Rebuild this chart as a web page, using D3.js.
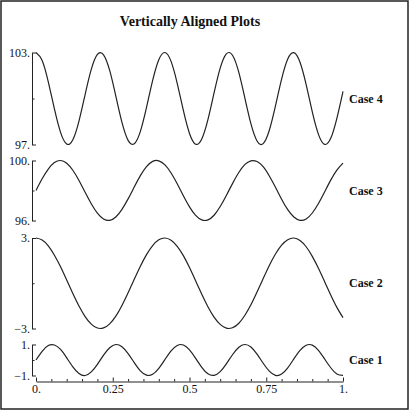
<!DOCTYPE html>
<html>
<head>
<meta charset="utf-8">
<script src="https://cdn.jsdelivr.net/npm/d3@7"></script>
<style>
  html, body { margin: 0; padding: 0; background: #fff; }
  svg { display: block; }
  text { font-family: "Liberation Serif", "Times New Roman", serif; fill: #111; }
</style>
</head>
<body>
<svg id="chart" width="410" height="412"></svg>
<script>
// ---- Data ----
const title = "Vertically Aligned Plots";
const xs = [0,0.02,0.04,0.06,0.08,0.1,0.12,0.14,0.16,0.18,0.2,0.22,0.24,0.26,0.28,0.3,0.32,0.34,0.36,0.38,0.4,0.42,0.44,0.46,0.48,0.5,0.52,0.54,0.56,0.58,0.6,0.62,0.64,0.66,0.68,0.7,0.72,0.74,0.76,0.78,0.8,0.82,0.84,0.86,0.88,0.9,0.92,0.94,0.96,0.98,1];
const case4 = [103.00,102.48,101.09,99.32,97.79,97.03,97.31,98.53,100.26,101.90,102.88,102.85,101.83,100.16,98.44,97.27,97.05,97.86,99.42,101.18,102.53,103.00,102.42,100.99,99.22,97.72,97.02,97.36,98.62,100.36,101.98,102.91,102.82,101.75,100.06,98.36,97.23,97.06,97.93,99.52,101.27,102.58,102.99,102.36,100.90,99.12,97.66,97.01,97.40,98.71,100.46];
const case3 = [98.00,98.78,99.43,99.86,100.00,99.82,99.35,98.67,97.88,97.12,96.49,96.10,96.01,96.23,96.74,97.44,98.23,98.99,99.59,99.94,99.98,99.71,99.17,98.45,97.65,96.91,96.34,96.04,96.04,96.35,96.93,97.67,98.46,99.18,99.72,99.98,99.93,99.59,98.97,98.22,97.42,96.72,96.23,96.01,96.10,96.50,97.13,97.90,98.69,99.36,99.83];
const case2 = [3.00,2.87,2.48,1.86,1.09,0.21,-0.68,-1.51,-2.21,-2.71,-2.97,-2.96,-2.69,-2.18,-1.47,-0.63,0.26,1.13,1.90,2.50,2.88,3.00,2.85,2.45,1.83,1.04,0.16,-0.73,-1.56,-2.25,-2.73,-2.98,-2.95,-2.67,-2.14,-1.43,-0.58,0.31,1.18,1.94,2.53,2.89,3.00,2.84,2.42,1.78,0.99,0.11,-0.78,-1.60,-2.28];
const case1 = [0,0.56,0.93,0.97,0.68,0.14,-0.44,-0.87,-1.00,-0.77,-0.28,0.31,0.79,1.00,0.85,0.41,-0.17,-0.70,-0.98,-0.92,-0.54,0.03,0.59,0.94,0.97,0.65,0.11,-0.47,-0.89,-0.99,-0.75,-0.25,0.34,0.81,1.00,0.84,0.38,-0.21,-0.72,-0.99,-0.91,-0.51,0.07,0.62,0.95,0.96,0.62,0.07,-0.50,-0.90,-0.99];

const caseNames = ["Case 4", "Case 3", "Case 2", "Case 1"];
const caseSeries = [case4, case3, case2, case1];
const yDomains = [[97, 103], [96, 100], [-3, 3], [-1, 1]];
const yMajorTicks = [[97, 103], [96, 100], [-3, 3], [-1, 1]];
const yMinorTicks = [[100], [98], [0], [0]];
const xMajorTicks = [0, 0.25, 0.5, 0.75, 1];
const xTickLabels = ["0.", "0.25", "0.5", "0.75", "1."];
const xMinorTicks = [0.05,0.1,0.15,0.2,0.3,0.35,0.4,0.45,0.55,0.6,0.65,0.7,0.8,0.85,0.9,0.95];

// ---- Layout ----
const svg = d3.select("#chart");
const panelRanges = [[144.5, 52.5], [220.5, 160.5], [328.5, 238], [375.5, 344.5]];
const axisX = 32;
const xAxisY = 381.5;
const x = d3.scaleLinear().domain([0, 1]).range([36, 343]);

svg.append("rect")
  .attr("x", 1).attr("y", 1).attr("width", 407).attr("height", 408)
  .attr("fill", "none").attr("stroke", "#222").attr("stroke-width", 1.5);

svg.append("text")
  .attr("x", 190).attr("y", 26)
  .attr("text-anchor", "middle")
  .style("font-size", "14px").style("font-weight", "bold")
  .text(title);

const fmt = d => (d < 0 ? "\u2212" + Math.abs(d) : String(d)) + ".";

caseSeries.forEach((series, i) => {
  const y = d3.scaleLinear().domain(yDomains[i]).range(panelRanges[i]);

  const major = svg.append("g")
    .attr("transform", `translate(${axisX},0)`)
    .call(d3.axisLeft(y).tickValues(yMajorTicks[i]).tickSize(-4).tickSizeOuter(0).tickPadding(2).tickFormat(fmt));
  major.select(".domain").attr("stroke", "#222");
  major.selectAll(".tick line").attr("stroke", "#222");
  major.selectAll("text").attr("font-family", null).style("font-size", "12px").attr("fill", "#111");

  const minor = svg.append("g")
    .attr("transform", `translate(${axisX},0)`)
    .call(d3.axisLeft(y).tickValues(yMinorTicks[i]).tickSize(-2.5).tickSizeOuter(0).tickFormat(""));
  minor.select(".domain").remove();
  minor.selectAll(".tick line").attr("stroke", "#222");

  const line = d3.line()
    .x((d, j) => x(xs[j]))
    .y(d => y(d))
    .curve(d3.curveNatural);

  svg.append("path")
    .datum(series)
    .attr("d", line)
    .attr("fill", "none")
    .attr("stroke", "#222")
    .attr("stroke-width", 1.2);

  const yMid = (panelRanges[i][0] + panelRanges[i][1]) / 2;
  svg.append("text")
    .attr("x", 349).attr("y", yMid + 4)
    .style("font-size", "12px").style("font-weight", "bold")
    .text(caseNames[i]);
});

// X axis
const xMajor = svg.append("g")
  .attr("transform", `translate(0,${xAxisY})`)
  .call(d3.axisBottom(x).tickValues(xMajorTicks).tickSize(-4).tickSizeOuter(0).tickPadding(3)
    .tickFormat((d, j) => xTickLabels[j]));
xMajor.select(".domain").attr("stroke", "#222");
xMajor.selectAll(".tick line").attr("stroke", "#222");
xMajor.selectAll("text").attr("font-family", null).style("font-size", "12px").attr("fill", "#111");

const xMinor = svg.append("g")
  .attr("transform", `translate(0,${xAxisY})`)
  .call(d3.axisBottom(x).tickValues(xMinorTicks).tickSize(-2.5).tickSizeOuter(0).tickFormat(""));
xMinor.select(".domain").remove();
xMinor.selectAll(".tick line").attr("stroke", "#222");
</script>
</body>
</html>
